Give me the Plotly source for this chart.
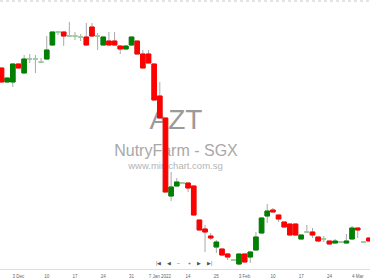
import plotly.graph_objects as go

# Candle data (index = trading-day position)
opens = [0.0401, 0.0387, 0.0387, 0.0405, 0.0396, 0.0410, 0.0410, 0.0407, 0.0410, 0.0424,
         0.0437, 0.0437, 0.0433, 0.0433, 0.0432, 0.0432, 0.0442, 0.0433, 0.0424, 0.0428,
         0.0428, 0.0423, 0.0420, 0.0424, 0.0428, 0.0415, 0.0415, 0.0405, 0.0373, 0.0351,
         0.0273, 0.0283, 0.0286, 0.0286, 0.0283, 0.0249, 0.0240, 0.0233, 0.0222, 0.0220,
         0.0215, 0.0209, 0.0205, 0.0215, 0.0212, 0.0219, 0.0236, 0.0253, 0.0259, 0.0254,
         0.0247, 0.0245, 0.0245, 0.0230, 0.0237, 0.0237, 0.0232, 0.0230, 0.0228, 0.0226,
         0.0227, 0.0226, 0.0230, 0.0241, 0.0227, 0.0231]
highs = [0.0401, 0.0391, 0.0405, 0.0405, 0.0414, 0.0415, 0.0414, 0.0411, 0.0433, 0.0437,
         0.0438, 0.0437, 0.0447, 0.0437, 0.0435, 0.0446, 0.0446, 0.0436, 0.0432, 0.0437,
         0.0437, 0.0423, 0.0423, 0.0432, 0.0428, 0.0419, 0.0419, 0.0405, 0.0387, 0.0351,
         0.0297, 0.0291, 0.0287, 0.0286, 0.0283, 0.0249, 0.0244, 0.0236, 0.0229, 0.0220,
         0.0216, 0.0210, 0.0215, 0.0215, 0.0218, 0.0237, 0.0251, 0.0265, 0.0261, 0.0254,
         0.0247, 0.0245, 0.0245, 0.0234, 0.0244, 0.0241, 0.0232, 0.0233, 0.0228, 0.0230,
         0.0228, 0.0235, 0.0243, 0.0241, 0.0228, 0.0231]
lows = [0.0387, 0.0387, 0.0382, 0.0401, 0.0396, 0.0406, 0.0396, 0.0406, 0.0410, 0.0424,
        0.0434, 0.0423, 0.0432, 0.0429, 0.0428, 0.0424, 0.0432, 0.0419, 0.0424, 0.0424,
        0.0424, 0.0415, 0.0420, 0.0424, 0.0415, 0.0401, 0.0406, 0.0369, 0.0351, 0.0277,
        0.0268, 0.0283, 0.0285, 0.0277, 0.0254, 0.0239, 0.0217, 0.0229, 0.0216, 0.0214,
        0.0209, 0.0208, 0.0204, 0.0207, 0.0206, 0.0219, 0.0236, 0.0246, 0.0257, 0.0247,
        0.0242, 0.0234, 0.0234, 0.0230, 0.0236, 0.0231, 0.0228, 0.0227, 0.0225, 0.0226,
        0.0226, 0.0226, 0.0230, 0.0231, 0.0226, 0.0228]
closes = [0.0387, 0.0391, 0.0405, 0.0401, 0.0410, 0.0410, 0.0410, 0.0407, 0.0419, 0.0437,
          0.0437, 0.0433, 0.0433, 0.0433, 0.0432, 0.0424, 0.0433, 0.0433, 0.0432, 0.0424,
          0.0424, 0.0420, 0.0423, 0.0432, 0.0415, 0.0401, 0.0406, 0.0369, 0.0351, 0.0277,
          0.0282, 0.0287, 0.0286, 0.0281, 0.0254, 0.0239, 0.0237, 0.0231, 0.0227, 0.0214,
          0.0212, 0.0209, 0.0215, 0.0207, 0.0217, 0.0232, 0.0251, 0.0258, 0.0257, 0.0250,
          0.0242, 0.0234, 0.0234, 0.0234, 0.0237, 0.0234, 0.0228, 0.0230, 0.0225, 0.0228,
          0.0227, 0.0228, 0.0241, 0.0239, 0.0227, 0.0228]

tick_positions = [3, 8, 13, 18, 23, 28, 33, 38, 43, 48, 53, 58, 63]
tick_labels = ["3 Dec", "10", "17", "24", "31", "7 Jan 2022", "14", "25",
               "3 Feb", "10", "17", "24", "4 Mar"]

nav_labels = ["|◀", "◀", "–", "+", "▶", "▶|"]

x_idx = list(range(len(opens)))

UP = "#008000"
DOWN = "#ff0000"
FLAT = "#9ccf9c"
WICK = "#a8a8a8"

fig = go.Figure()

# wicks (full range, grey)
fig.add_trace(go.Candlestick(
    x=x_idx, open=opens, high=highs, low=lows, close=closes,
    increasing=dict(line=dict(color=WICK, width=1), fillcolor=WICK),
    decreasing=dict(line=dict(color=WICK, width=1), fillcolor=WICK),
    showlegend=False, hoverinfo="skip"))

def body_trace(sel, color):
    xs = [x_idx[i] for i in sel]
    o = [opens[i] for i in sel]
    c = [closes[i] for i in sel]
    hi = [max(opens[i], closes[i]) for i in sel]
    lo = [min(opens[i], closes[i]) for i in sel]
    return go.Candlestick(
        x=xs, open=o, high=hi, low=lo, close=c,
        increasing=dict(line=dict(color=color, width=1), fillcolor=color),
        decreasing=dict(line=dict(color=color, width=1), fillcolor=color),
        showlegend=False)

up_sel = [i for i in x_idx if closes[i] > opens[i]]
down_sel = [i for i in x_idx if closes[i] < opens[i]]
flat_sel = [i for i in x_idx if closes[i] == opens[i]]
fig.add_trace(body_trace(up_sel, UP))
fig.add_trace(body_trace(down_sel, DOWN))
fig.add_trace(body_trace(flat_sel, FLAT))

W, H = 370, 278
mt, mb = 1, 9
plot_h = H - mt - mb

def py(pix):
    return (H - mb - pix) / plot_h

font_fam = "Liberation Sans, Arial, sans-serif"
shapes = []
for text, size, color, cx, cy in [
    ("AZT", 28, "#9a9a9a", 176, 116),
    ("NutryFarm - SGX", 16, "#a8a8a8", 176, 148),
    ("www.minichart.com.sg", 9.5, "#b4b4b4", 175.5, 165),
]:
    shapes.append(dict(type="rect", xref="paper", yref="paper",
                       x0=(cx - 80) / W, x1=(cx + 80) / W,
                       y0=py(cy + 10), y1=py(cy - 10),
                       line=dict(width=0), fillcolor="rgba(0,0,0,0)",
                       layer="below",
                       label=dict(text=text, textposition="middle center",
                                  font=dict(size=size, color=color, family=font_fam))))
shapes.append(dict(type="line", xref="paper", yref="paper", x0=0, x1=1, y0=1, y1=1,
                   line=dict(color="#c8c8c8", width=1, dash="dot")))

annotations = []
for lab, px in zip(nav_labels, [158, 169, 178, 189, 199, 209]):
    annotations.append(dict(text=lab, x=px / W, y=py(263), xref="paper", yref="paper",
                            showarrow=False, font=dict(size=5, color="#555555", family=font_fam),
                            xanchor="center", yanchor="middle"))

sp = 5.654
x0 = -1.5 / sp
fig.update_layout(
    width=W, height=H,
    margin=dict(l=0, r=0, t=mt, b=mb),
    paper_bgcolor="white", plot_bgcolor="white",
    boxgap=0.1, boxgroupgap=0.1,
    shapes=shapes, annotations=annotations,
    showlegend=False,
    xaxis=dict(range=[x0, x0 + W / sp], rangeslider=dict(visible=False),
               tickmode="array", tickvals=tick_positions, ticktext=tick_labels,
               tickfont=dict(size=4.5, color="#666666", family=font_fam),
               showgrid=False, zeroline=False, showline=True, linecolor="#dddddd",
               linewidth=1, ticks="outside", ticklen=3, tickcolor="rgba(0,0,0,0)",
               fixedrange=True),
    yaxis=dict(range=[0.0200, 0.0200 + plot_h * 0.0001], visible=False,
               showgrid=False, zeroline=False, fixedrange=True),
)

fig.write_html("out.html")
